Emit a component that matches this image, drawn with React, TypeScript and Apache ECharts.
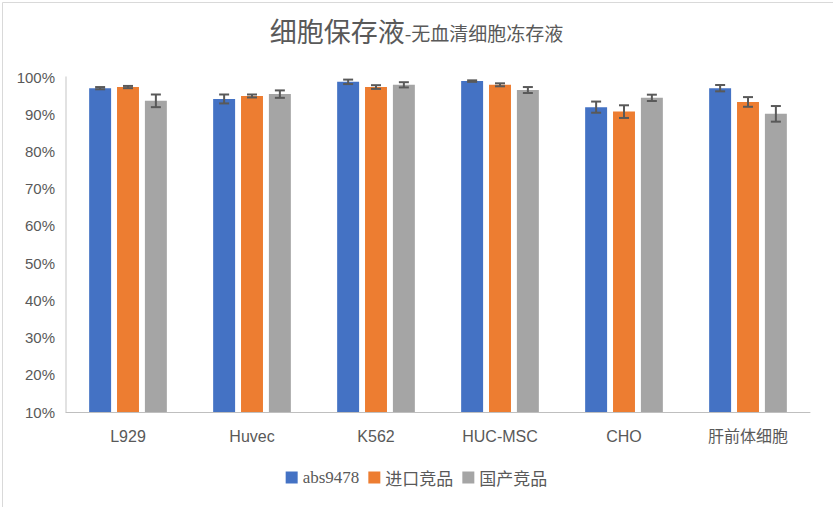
import React, { useEffect, useRef } from "react";
import * as echarts from "echarts";

const categories = ["L929", "Huvec", "K562", "HUC-MSC", "CHO", "肝前体细胞"];
const seriesNames = ["abs9478", "进口竞品", "国产竞品"];
const absValues = [97.0, 94.1, 98.7, 98.9, 91.9, 97.0];
const importValues = [97.3, 94.9, 97.3, 97.9, 90.7, 93.3];
const domesticValues = [93.6, 95.4, 97.9, 96.5, 94.4, 90.1];
const absErrors = [0.3, 1.2, 0.6, 0.2, 1.5, 0.85];
const importErrors = [0.3, 0.4, 0.5, 0.4, 1.7, 1.3];
const domesticErrors = [1.7, 1.0, 0.7, 0.8, 0.85, 2.1];
const yTicks = [10, 20, 30, 40, 50, 60, 70, 80, 90, 100];

const colors = ["#4472C4", "#ED7D31", "#A5A5A5"];
const BAR_W = 0.177;
const BAR_GAP = 0.27;
const FONT = "Liberation Sans, Noto Sans CJK SC, sans-serif";
const CJK = "Noto Sans CJK SC, sans-serif";

export default function App() {
  const ref = useRef<HTMLDivElement>(null);
  useEffect(() => {
    document.body.style.margin = "0";
    const chart = echarts.init(ref.current!, undefined, { renderer: "svg" });
    const values = [absValues, importValues, domesticValues];
    const errors = [absErrors, importErrors, domesticErrors];

    const barSeries = seriesNames.map((name, i) => ({
      name,
      type: "bar",
      data: values[i],
      barWidth: BAR_W * 100 + "%",
      barGap: BAR_GAP * 100 + "%",
      itemStyle: { color: colors[i] },
      z: 2,
    }));

    const errSeries = seriesNames.map((name, si) => ({
      name: name + "_err",
      type: "custom",
      z: 5,
      data: values[si].map((v, ci) => [ci, v - errors[si][ci], v + errors[si][ci]]),
      encode: { x: 0, y: [1, 2] },
      renderItem: (params: any, api: any) => {
        const ci = api.value(0);
        const lo = api.coord([ci, api.value(1)]);
        const hi = api.coord([ci, api.value(2)]);
        const band = api.size([1, 0])[0];
        const bw = band * BAR_W;
        const gap = bw * BAR_GAP;
        const total = 3 * bw + 2 * gap;
        const x = lo[0] - total / 2 + bw / 2 + si * (bw + gap);
        const cap = 5;
        const style = { stroke: "#595959", lineWidth: 2 };
        return {
          type: "group",
          children: [
            { type: "line", shape: { x1: x, y1: lo[1], x2: x, y2: hi[1] }, style },
            { type: "line", shape: { x1: x - cap, y1: lo[1], x2: x + cap, y2: lo[1] }, style },
            { type: "line", shape: { x1: x - cap, y1: hi[1], x2: x + cap, y2: hi[1] }, style },
          ],
        };
      },
    }));

    chart.setOption({
      animation: false,
      backgroundColor: "#ffffff",
      title: {
        text: "{a|细胞保存液}{b|-无血清细胞冻存液}",
        left: "center",
        top: 12,
        textStyle: {
          fontWeight: "normal",
          rich: {
            a: { fontSize: 27, color: "#595959", fontFamily: CJK, fontWeight: "normal" },
            b: { fontSize: 19, color: "#595959", fontFamily: CJK, fontWeight: "normal", padding: [5, 0, 0, 0] },
          },
        },
      },
      legend: {
        bottom: 16,
        left: "center",
        icon: "rect",
        itemWidth: 12,
        itemHeight: 12,
        itemGap: 9,
        formatter: (n: string) => (n === "abs9478" ? "{s|abs9478}" : "{c|" + n + "}"),
        textStyle: {
          color: "#595959",
          fontSize: 17,
          fontFamily: CJK,
          rich: {
            s: { fontSize: 17, color: "#595959", fontFamily: "serif" },
            c: { fontSize: 17, color: "#595959", fontFamily: CJK },
          },
        },
        data: seriesNames,
      },
      grid: { left: 66, right: 23, top: 77, bottom: 95 },
      xAxis: {
        type: "category",
        data: categories,
        axisLine: { lineStyle: { color: "#BFBFBF", width: 1 } },
        axisTick: { show: false },
        axisLabel: { color: "#595959", fontSize: 16, margin: 16, fontFamily: FONT },
      },
      yAxis: {
        type: "value",
        min: 10,
        max: 100,
        interval: 10,
        axisLine: { show: true, lineStyle: { color: "#D9D9D9", width: 1.5 } },
        axisTick: { show: false },
        splitLine: { show: false },
        axisLabel: {
          color: "#595959",
          fontSize: 15,
          margin: 11,
          fontFamily: FONT,
          formatter: (v: number) => (yTicks.includes(v) ? v + "%" : ""),
        },
      },
      graphic: [
        {
          type: "rect",
          left: 0,
          top: 0,
          shape: { x: 0.5, y: 0.5, width: 832, height: 506 },
          style: { fill: "none", stroke: "#D9D9D9", lineWidth: 1 },
          silent: true,
        },
      ],
      series: [...barSeries, ...errSeries],
    });
    return () => chart.dispose();
  }, []);
  return <div ref={ref} style={{ position: "absolute", left: 0, top: 0, width: 833, height: 507 }} />;
}
